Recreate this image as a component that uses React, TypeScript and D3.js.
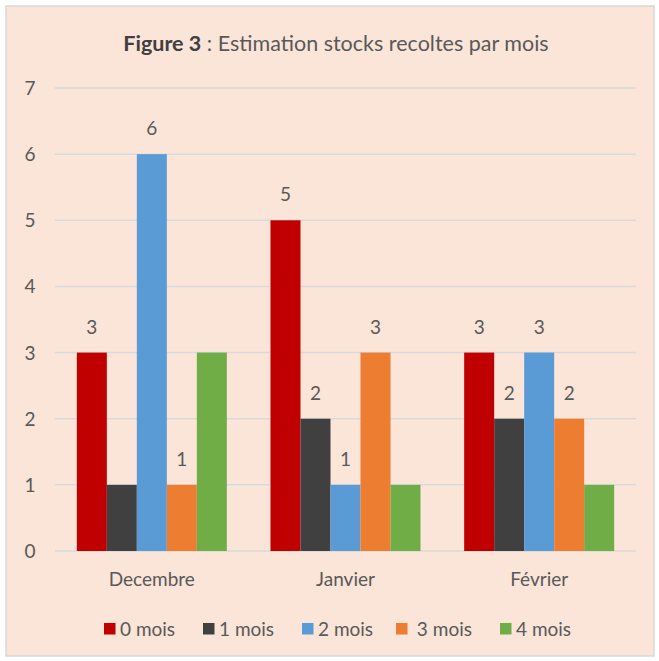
import React from "react";
import * as d3 from "d3";

const categories = ["Decembre", "Janvier", "Février"];
const seriesNames = ["0 mois", "1 mois", "2 mois", " 3 mois", "4 mois"];
const seriesColors = ["#C00000", "#404040", "#5B9BD5", "#ED7D31", "#70AD47"];
const values0 = [3, 5, 3];
const values1 = [1, 2, 2];
const values2 = [6, 1, 3];
const values3 = [1, 3, 2];
const values4 = [3, 1, 1];
const seriesValues = [values0, values1, values2, values3, values4];
const showLabels0 = [true, true, true];
const showLabels1 = [false, true, true];
const showLabels2 = [true, true, true];
const showLabels3 = [true, true, true];
const showLabels4 = [false, false, false];
const showLabels = [showLabels0, showLabels1, showLabels2, showLabels3, showLabels4];
const yTicks = [0, 1, 2, 3, 4, 5, 6, 7];

const W = 659;
const H = 661;
const FONT = "Lato, 'Open Sans', sans-serif";
const TXT = "#595959";

export default function App() {
  const left = 55, right = 636, top = 88, bottom = 551;
  const x0 = d3.scaleBand<string>().domain(categories).range([left, right]).paddingInner(0).paddingOuter(0);
  const bw = x0.bandwidth();
  const groupW = 150;
  const x1 = d3.scaleBand<string>().domain(seriesNames).range([0, groupW]).padding(0);
  const y = d3.scaleLinear().domain([0, 7]).range([bottom, top]);

  const legendX = [104, 203, 302, 396, 500];

  return (
    <svg width={W} height={H} style={{ position: "absolute", left: 0, top: 0 }}>
      <rect x={0} y={0} width={W} height={H} fill="#ffffff" />
      <rect x={6} y={6} width={648} height={650} fill="#FAE5D8" stroke="#D9D9D9" strokeWidth={1.5} />
      <text x={336} y={51} textAnchor="middle" fontFamily={FONT} fontSize={21.5} fill={TXT}>
        <tspan fontWeight="bold" fill="#404040">Figure 3</tspan>
        <tspan> : Estimation stocks recoltes par mois</tspan>
      </text>
      {yTicks.map((t) => (
        <g key={t}>
          <line x1={left} x2={right} y1={y(t)} y2={y(t)} stroke="#D9D9D9" strokeWidth={1.5} />
          <text x={30} y={y(t) + 7} textAnchor="middle" fontFamily={FONT} fontSize={19} fill={TXT}>{t}</text>
        </g>
      ))}
      {categories.map((c, ci) => {
        const gx = (x0(c) as number) + (bw - groupW) / 2;
        return (
          <g key={c}>
            {seriesNames.map((s, si) => {
              const v = seriesValues[si][ci];
              const bx = gx + (x1(s) as number);
              return (
                <g key={s}>
                  <rect x={bx} y={y(v)} width={x1.bandwidth()} height={y(0) - y(v)} fill={seriesColors[si]} />
                  {showLabels[si][ci] && (
                    <text x={bx + x1.bandwidth() / 2} y={y(v) - 19} textAnchor="middle" fontFamily={FONT} fontSize={19} fill={TXT}>{v}</text>
                  )}
                </g>
              );
            })}
            <text x={(x0(c) as number) + bw / 2} y={586} textAnchor="middle" fontFamily={FONT} fontSize={19} fill={TXT}>{c}</text>
          </g>
        );
      })}
      {seriesNames.map((s, si) => (
        <g key={s}>
          <rect x={legendX[si]} y={623} width={11.5} height={11.5} fill={seriesColors[si]} />
          <text x={legendX[si] + 16} y={636} fontFamily={FONT} fontSize={19} fill={TXT} style={{ whiteSpace: "pre" }} xmlSpace="preserve">{s}</text>
        </g>
      ))}
    </svg>
  );
}
